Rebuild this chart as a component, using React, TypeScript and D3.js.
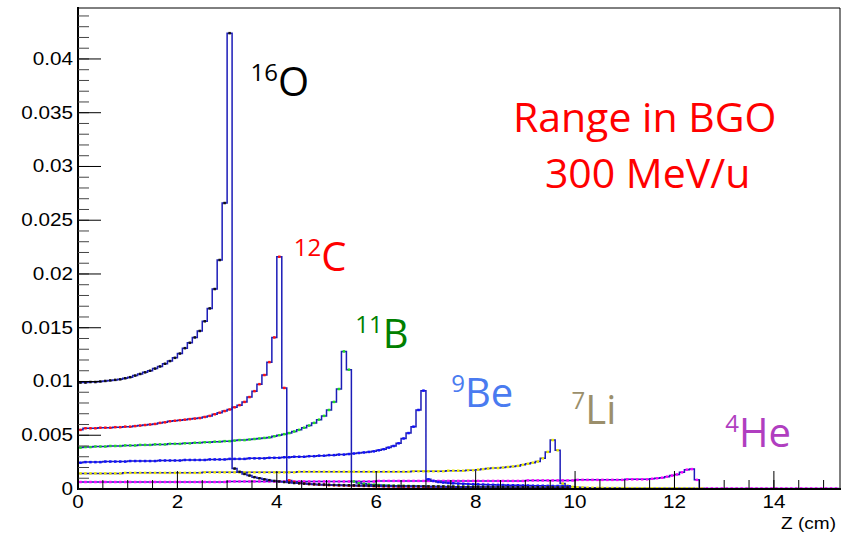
import React from 'react'
import * as d3 from 'd3'

// bin contents in units of 1e-4, bins of 0.1 cm starting at Z = 0
const oxygen16 = [
  99, 99, 99.5, 99.5, 100, 100.5, 101, 101.5, 102, 103,
  104, 105.5, 107, 108.5, 110, 112, 114, 116.5, 119, 122,
  126, 131, 136, 141, 147, 156, 168, 186, 213, 266,
  424,
  19, 16, 14, 12.5, 11, 10, 9, 8.2, 7.5, 7,
  6.5, 6, 5.6, 5.3, 5, 4.7, 4.5, 4.3, 4.1, 3.9,
  3.8, 3.7, 3.6, 3.5, 3.4, 3.3, 3.2, 3.1, 3, 3,
  2.9, 2.8, 2.8, 2.7, 2.7, 2.6, 2.6, 2.5, 2.5, 2.4,
  2.4, 2.3, 2.3, 2.2, 2.2, 2.1, 2.1, 2, 2, 2,
  1.9, 1.9, 1.9, 1.8, 1.8, 1.8, 1.7, 1.7, 1.7, 1.6,
  1.6, 1.6, 1.5, 1.5, 1.5, 1.4, 1.4, 1.4,
]

const carbon12 = [
  55, 56.5, 56.5, 56.5, 57, 57, 57, 57.5, 57.5, 58,
  58, 58.5, 59, 59.5, 60, 60.5, 61.5, 62, 63, 63.5,
  64, 64.5, 65, 65.5, 66, 67, 68, 69.5, 71, 72.5,
  74, 76, 78, 81, 85.5, 91, 97.5, 106, 118, 141,
  216, 94,
  8, 6.5, 5.5, 5, 4.6, 4.3, 4, 3.8, 3.6, 3.4,
  3.3, 3.2, 3.1, 3, 2.9, 2.8, 2.7, 2.6, 2.5, 2.4,
  2.3, 2.3, 2.2, 2.2, 2.1, 2.1, 2, 2, 1.9, 1.9,
  1.8, 1.8, 1.8, 1.7, 1.7, 1.7, 1.6, 1.6, 1.6, 1.5,
  1.5, 1.5, 1.4, 1.4, 1.4, 1.3, 1.3, 1.3, 1.2, 1.2,
  1.2, 1.1, 1.1, 1.1, 1, 1, 1,
]

const boron11 = [
  38.5, 39, 39, 39.5, 39.5, 39.5, 40, 40, 40, 40.5,
  40.5, 40.5, 41, 41, 41, 41.5, 41.5, 41.5, 42, 42,
  42, 42.5, 42.5, 43, 43, 43.5, 43.5, 44, 44, 44.5,
  44.5, 45, 45.5, 45.5, 46, 46.5, 47, 47.5, 48, 49,
  50, 51, 52, 53.5, 55, 57, 59, 61.5, 64.5, 68,
  73.5, 81, 93, 128, 111,
  7, 5.5, 4.8, 4.3, 4, 3.7, 3.5, 3.3, 3.1, 3,
  2.9, 2.8, 2.7, 2.6, 2.5, 2.4, 2.3, 2.3, 2.2, 2.2,
  2.1, 2.1, 2, 2, 1.9, 1.9, 1.8, 1.8, 1.7, 1.7,
  1.7, 1.6, 1.6, 1.6, 1.5, 1.5, 1.5, 1.4, 1.4, 1.4,
  1.3, 1.3, 1.3, 1.2,
]

const beryllium9 = [
  24.5, 25, 25, 25, 25, 25.5, 25.5, 25.5, 25.5, 25.5,
  26, 26, 26, 26, 26, 26, 26.5, 26.5, 26.5, 26.5,
  26.5, 27, 27, 27, 27, 27, 27.5, 27.5, 27.5, 27.5,
  28, 28, 28, 28, 28.5, 28.5, 28.5, 28.5, 29, 29,
  29, 29.5, 29.5, 30, 30, 30, 30.5, 30.5, 31, 31,
  31.5, 31.5, 32, 32, 32.5, 33, 33.5, 34, 34.5, 35,
  36, 37, 38.5, 40, 42.5, 47, 52, 58, 73.5, 91.5,
  9, 7.5, 6.5, 6, 5.6, 5.3, 5, 4.8, 4.6, 4.4,
  4.3, 4.1, 4, 3.9, 3.8, 3.7, 3.6, 3.5, 3.4, 3.3,
  3.2, 3.1, 3, 3, 2.9, 2.8, 2.8, 2.7, 2.6,
]

const lithium7 = [
  14.5, 14.5, 14.5, 14.5, 14.5, 14.5, 14.5, 14.5, 14.5, 15,
  15, 15, 15, 15, 15, 15, 15, 15, 15, 15,
  15, 15, 15, 15, 15, 15.5, 15.5, 15.5, 15.5, 15.5,
  15.5, 15.5, 15.5, 15.5, 15.5, 15.5, 15.5, 15.5, 15.5, 15.5,
  15.5, 15.5, 15.5, 15.5, 16, 16, 16, 16, 16, 16,
  16, 16, 16, 16, 16, 16, 16, 16, 16, 16,
  16, 16, 16, 16, 16, 16, 16, 16.5, 16.5, 16.5,
  16.5, 16.5, 16.5, 16.5, 17, 17, 17, 17, 17.5, 17.5,
  18, 18.5, 19, 19.5, 19.5, 20, 20.5, 21, 21.5, 22.5,
  23.5, 24.5, 25.5, 28.5, 34.5, 45.5, 36,
  5, 3, 2, 1.6, 1.4, 1.2, 1.1, 1, 1, 0.9,
  0.9, 0.9, 0.8, 0.8, 0.8, 0.8, 0.7, 0.7, 0.7, 0.7,
  0.7, 0.6, 0.6, 0.6, 0.6, 0.6, 0.6, 0.5, 0.5,
]

const helium4 = [
  6.5, 6.5, 6.5, 6.5, 6.5, 6.5, 6.5, 6.5, 6.5, 6.5,
  6.5, 6.5, 6.5, 6.5, 6.5, 6.5, 6.5, 6.5, 6.5, 6.5,
  6.5, 6.5, 6.5, 6.5, 6.5, 6.5, 6.5, 6.5, 6.5, 6.5,
  7, 7, 7, 7, 7, 7, 7, 7, 7, 7,
  7, 7, 7, 7, 7, 7, 7, 7, 7, 7,
  7, 7, 7, 7, 7, 7, 7, 7, 7, 7,
  7.5, 7.5, 7.5, 7.5, 7.5, 7.5, 7.5, 7.5, 7.5, 7.5,
  7.5, 7.5, 7.5, 7.5, 7.5, 7.5, 7.5, 7.5, 7.5, 7.5,
  7.5, 7.5, 7.5, 7.5, 7.5, 7.5, 7.5, 7.5, 7.5, 7.5,
  8, 8, 8, 8, 8, 8, 8, 8, 8, 8,
  8.5, 8.5, 8.5, 8.5, 8.5, 8.5, 8.5, 8.5, 8.5, 8.5,
  9, 9, 9, 9, 9, 9.5, 10, 10.5, 11.5, 12.5,
  13.5, 15.5, 18, 18.5, 8.5,
  0.5, 0.5, 0.5, 0.5, 0.5, 0.5, 0.5, 0.5, 0.5, 0.5,
  0.5, 0.5, 0.5, 0.5, 0.5, 0.5, 0.5, 0.5, 0.5, 0.5,
  0.5, 0.5, 0.5, 0.5, 0.5, 0.5, 0.5, 0.5,
]

const series = [
  { name: 'He', values: helium4, marker: '#ff00ff' },
  { name: 'Li', values: lithium7, marker: '#e8e800' },
  { name: 'Be', values: beryllium9, marker: '#1010ff' },
  { name: 'B', values: boron11, marker: '#22dd22' },
  { name: 'C', values: carbon12, marker: '#ff1010' },
  { name: 'O', values: oxygen16, marker: '#111111' },
]

// nucleus labels: superscript, symbol, colour, anchor in data units
const labels = [
  { sup: '16', sym: 'O', color: '#000000', z: 3.47, v: 0.03656 },
  { sup: '12', sym: 'C', color: '#ff0000', z: 4.34, v: 0.02028 },
  { sup: '11', sym: 'B', color: '#008000', z: 5.58, v: 0.01312 },
  { sup: '9', sym: 'Be', color: '#4a7bf0', z: 7.51, v: 0.00763 },
  { sup: '7', sym: 'Li', color: '#9b8f6b', z: 9.93, v: 0.00605 },
  { sup: '4', sym: 'He', color: '#b03ec0', z: 13.02, v: 0.00391 },
]

const title = [
  { text: 'Range in BGO', z: 11.4, v: 0.03321 },
  { text: '300 MeV/u', z: 11.46, v: 0.028 },
]

const BIN = 0.1
const UNIT = 1e-4

export default function App() {
  const x = d3.scaleLinear().domain([0, 15.33]).range([78, 840])
  const y = d3.scaleLinear().domain([0, 0.04474]).range([489, 8])

  const line = d3.line<[number, number]>()
    .x(d => x(d[0]))
    .y(d => y(d[1]))
    .curve(d3.curveStepAfter)

  const yMajor = d3.range(0, 9).map(i => i * 0.005)
  const yMinor = d3.range(0, 45).map(i => i * 0.001)
  const xMajor = d3.range(0, 8).map(i => i * 2)
  const xMinor = d3.range(0, 31).map(i => i * 0.5)

  const fmt = (t: number) => String(+t.toFixed(3))

  return (
    <svg width={841} height={533} style={{ position: 'absolute', left: 0, top: 0, background: '#fff' }}>
      <rect x={0} y={0} width={841} height={533} fill="#fff" />

      {series.map(s => {
        const pts: [number, number][] = s.values.map((v, i) => [i * BIN, v * UNIT])
        pts.push([s.values.length * BIN, 0])
        return (
          <path key={s.name + 'l'} d={line(pts) || ''} fill="none" stroke="#1c1cb8" strokeWidth={1.5} />
        )
      })}
      {series.map(s => (
        <g key={s.name + 'm'} fill={s.marker}>
          {s.values.map((v, i) => (
            <rect key={i} x={x((i + 0.5) * BIN) - 1.25} y={y(v * UNIT) - 1.25} width={2.5} height={2.5} />
          ))}
        </g>
      ))}

      {/* frame */}
      <line x1={78} x2={840} y1={8} y2={8} stroke="#000" strokeWidth={1} />
      <line x1={840} x2={840} y1={8} y2={489} stroke="#000" strokeWidth={1} />
      <line x1={78} x2={78} y1={7} y2={490} stroke="#000" strokeWidth={2} />
      <line x1={77} x2={841} y1={489} y2={489} stroke="#000" strokeWidth={2} />

      {/* y ticks */}
      {yMinor.map(t => (
        <line key={'ym' + t} x1={78} x2={89} y1={y(t)} y2={y(t)} stroke="#444" strokeWidth={1} />
      ))}
      {yMajor.map(t => (
        <line key={'yM' + t} x1={78} x2={101} y1={y(t)} y2={y(t)} stroke="#000" strokeWidth={1} />
      ))}
      {yMajor.map(t => (
        <text key={'yl' + t} transform={`translate(73,${y(t) + 6}) scale(1.15,1)`} textAnchor="end"
          fontFamily="Liberation Sans, Arial, sans-serif" fontSize={18} fill="#000">{fmt(t)}</text>
      ))}

      {/* x ticks */}
      {xMinor.map(t => (
        <line key={'xm' + t} x1={x(t)} x2={x(t)} y1={489} y2={480} stroke="#000" strokeWidth={1} />
      ))}
      {xMajor.map(t => (
        <line key={'xM' + t} x1={x(t)} x2={x(t)} y1={489} y2={471} stroke="#000" strokeWidth={1} />
      ))}
      {xMajor.map(t => (
        <text key={'xl' + t} transform={`translate(${x(t)},508) scale(1.15,1)`} textAnchor="middle"
          fontFamily="Liberation Sans, Arial, sans-serif" fontSize={18} fill="#000">{t}</text>
      ))}
      <text transform="translate(836,529) scale(1.12,1)" textAnchor="end"
        fontFamily="Liberation Sans, Arial, sans-serif" fontSize={17} fill="#000">Z (cm)</text>

      {/* nucleus labels */}
      {labels.map(l => (
        <text key={l.sym} x={x(l.z)} y={y(l.v)} fill={l.color} fontFamily="Open Sans, sans-serif">
          <tspan fontSize={24} dy={-15}>{l.sup}</tspan>
          <tspan fontSize={40} dy={15}>{l.sym}</tspan>
        </text>
      ))}

      {title.map(t => (
        <text key={t.text} x={x(t.z)} y={y(t.v)} textAnchor="middle" fill="#ff0000"
          fontFamily="Open Sans, sans-serif" fontSize={41}>{t.text}</text>
      ))}
    </svg>
  )
}
